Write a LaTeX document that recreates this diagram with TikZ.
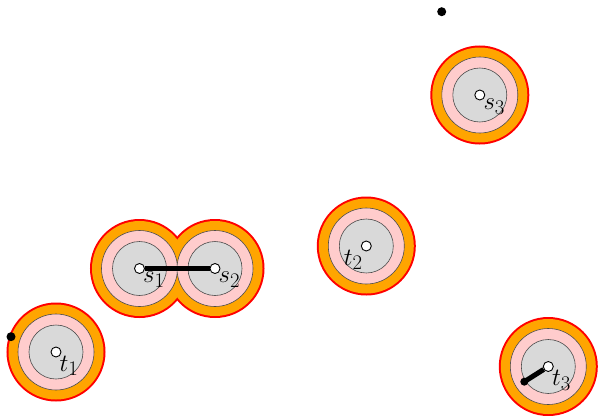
\documentclass[tikz,border=0pt]{standalone}
\usetikzlibrary{arrows.meta}
\definecolor{ring}{RGB}{255,165,0}
\definecolor{halo}{RGB}{255,204,204}
\definecolor{core}{RGB}{217,217,217}
\begin{document}
\begin{tikzpicture}[x=1pt,y=-1pt,hole/.style={circle,draw,fill=white,line width=.9pt,inner sep=0pt,minimum size=10pt},dot/.style={circle,fill=black,inner sep=0pt,minimum size=9pt},bar/.style={line width=5pt},lbl/.style={inner sep=3.5pt,font=\fontsize{32}{38}\selectfont}]
\useasboundingbox (0,0) rectangle (599,415);
\coordinate (s1) at (139.5,268.5);\coordinate (s2) at (215,268.5);\coordinate (s3) at (479.8,95);
\coordinate (t1) at (56,352);\coordinate (t2) at (366.3,246);\coordinate (t3) at (548.3,366.5);
\foreach \c in {s1,s2,s3,t1,t2,t3} \draw[red,line width=4pt] (\c) circle (47.5);
\foreach \c in {s1,s2,s3,t1,t2,t3} \fill[ring] (\c) circle (47.5);
\foreach \c in {s1,s2,s3,t1,t2,t3} {\filldraw[fill=halo,draw=black!70,line width=.6pt] (\c) circle (38);
  \filldraw[fill=core,draw=black!70,line width=.6pt] (\c) circle (27);}
\node[dot] (d1) at (441.7,11.7) {};
\node[dot] (d2) at (11,336.7) {};
\node[dot,minimum size=8pt] (e3) at (524.3,381.7) {};
\node[hole] (h1) at (s1) {};\node[hole] (h2) at (s2) {};\node[hole] (h3) at (s3) {};
\node[hole] (k1) at (t1) {};\node[hole] (k2) at (t2) {};\node[hole] (k3) at (t3) {};
\draw[bar] (h1)--(h2);\draw[bar] (k3)--(e3.center);
\node[lbl,anchor=north west] (ls1) at (s1) {$s_1$};
\node[lbl,anchor=north west] (ls2) at (s2) {$s_2$};
\node[lbl,anchor=north west] (ls3) at (s3) {$s_3$};
\node[lbl,anchor=north west] (lt1) at (t1) {$t_1$};
\node[lbl,anchor=north east] (lt2) at (t2) {$t_2$};
\node[lbl,anchor=north west] (lt3) at (t3) {$t_3$};
\end{tikzpicture}
\end{document}
